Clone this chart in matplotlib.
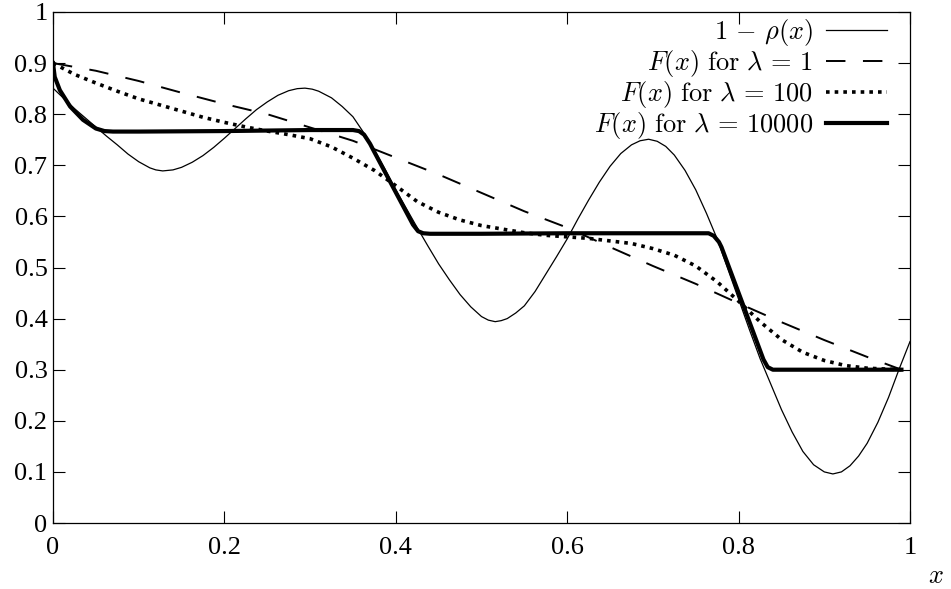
import numpy as np
import matplotlib.pyplot as plt

# values
thin_x = [0.0, 0.0125, 0.025, 0.0375, 0.05, 0.0625, 0.075, 0.0875, 0.1, 0.113, 0.12, 0.128,
          0.14, 0.15, 0.1625, 0.175, 0.1875, 0.2, 0.2125, 0.225, 0.2375, 0.25, 0.2625, 0.275,
          0.285, 0.294, 0.3025, 0.31, 0.325, 0.3375, 0.35, 0.3625, 0.375, 0.3875, 0.4, 0.4125,
          0.425, 0.4375, 0.45, 0.4625, 0.475, 0.4875, 0.5, 0.508, 0.516, 0.523, 0.53, 0.54,
          0.55, 0.5625, 0.575, 0.5875, 0.6, 0.6125, 0.625, 0.6375, 0.65, 0.6625, 0.675, 0.685,
          0.695, 0.705, 0.715, 0.725, 0.7375, 0.75, 0.7625, 0.775, 0.7875, 0.8, 0.8125, 0.825,
          0.8375, 0.85, 0.8625, 0.875, 0.8875, 0.9, 0.91, 0.92, 0.93, 0.94, 0.95, 0.9625,
          0.975, 0.9875, 1.0]
thin_y = [0.851, 0.831, 0.811, 0.793, 0.775, 0.757, 0.740, 0.722, 0.707, 0.695, 0.691, 0.689,
          0.691, 0.696, 0.706, 0.719, 0.735, 0.753, 0.772, 0.791, 0.809, 0.824, 0.837, 0.846,
          0.850, 0.851, 0.849, 0.845, 0.832, 0.815, 0.795, 0.764, 0.730, 0.692, 0.652, 0.615,
          0.578, 0.542, 0.507, 0.476, 0.447, 0.423, 0.404, 0.397, 0.394, 0.396, 0.400, 0.411,
          0.425, 0.453, 0.487, 0.521, 0.556, 0.595, 0.632, 0.667, 0.698, 0.723, 0.740, 0.748,
          0.751, 0.747, 0.737, 0.720, 0.690, 0.652, 0.606, 0.556, 0.497, 0.438, 0.379, 0.322,
          0.272, 0.222, 0.178, 0.140, 0.114, 0.100, 0.096, 0.100, 0.112, 0.131, 0.156, 0.197,
          0.246, 0.302, 0.355]

dash_x = [0.0, 0.05, 0.1, 0.15, 0.2, 0.25, 0.3, 0.35, 0.4, 0.45, 0.5, 0.55, 0.6, 0.65,
          0.7, 0.75, 0.8, 0.85, 0.9, 0.95, 0.99]
dash_y = [0.900, 0.885, 0.865, 0.842, 0.820, 0.800, 0.774, 0.748, 0.715, 0.682, 0.646, 0.610,
          0.578, 0.540, 0.503, 0.468, 0.430, 0.393, 0.358, 0.325, 0.300]

dot_x = [0.0, 0.025, 0.05, 0.075, 0.1, 0.125, 0.15, 0.175, 0.2, 0.225, 0.25, 0.275, 0.3,
         0.325, 0.35, 0.375, 0.4, 0.425, 0.45, 0.475, 0.5, 0.525, 0.55, 0.575, 0.6, 0.625,
         0.65, 0.675, 0.7, 0.725, 0.75, 0.775, 0.8, 0.825, 0.85, 0.875, 0.9, 0.925, 0.95,
         0.975, 0.99]
dot_y = [0.900, 0.878, 0.861, 0.845, 0.830, 0.818, 0.806, 0.794, 0.784, 0.775, 0.767, 0.760,
         0.752, 0.736, 0.714, 0.690, 0.660, 0.629, 0.608, 0.593, 0.582, 0.575, 0.568, 0.563,
         0.560, 0.557, 0.552, 0.547, 0.537, 0.524, 0.503, 0.472, 0.434, 0.394, 0.359, 0.334,
         0.318, 0.308, 0.303, 0.301, 0.300]

thick_x = [0.0, 0.002, 0.008, 0.02, 0.035, 0.05, 0.06, 0.07, 0.1, 0.2, 0.3, 0.35, 0.357,
           0.363, 0.37, 0.3737, 0.4, 0.42, 0.426, 0.432, 0.44, 0.5, 0.6, 0.7, 0.765, 0.771,
           0.777, 0.78, 0.805, 0.829, 0.834, 0.84, 0.9, 0.99]
thick_y = [0.900, 0.873, 0.847, 0.815, 0.789, 0.772, 0.767, 0.766, 0.766, 0.767, 0.769, 0.769,
           0.767, 0.760, 0.742, 0.730, 0.647, 0.584, 0.571, 0.567, 0.566, 0.566, 0.567, 0.567,
           0.567, 0.562, 0.550, 0.540, 0.428, 0.320, 0.305, 0.300, 0.300, 0.300]

labels = [r'$1\,-\,\rho(x)$',
          r'$F(x)\ \mathrm{for}\ \lambda\,=\,1$',
          r'$F(x)\ \mathrm{for}\ \lambda\,=\,100$',
          r'$F(x)\ \mathrm{for}\ \lambda\,=\,10000$']
xticks = [0, 0.2, 0.4, 0.6, 0.8, 1]
xticklabels = ['0', '0.2', '0.4', '0.6', '0.8', '1']
yticks = [0, 0.1, 0.2, 0.3, 0.4, 0.5, 0.6, 0.7, 0.8, 0.9, 1]
yticklabels = ['0', '0.1', '0.2', '0.3', '0.4', '0.5', '0.6', '0.7', '0.8', '0.9', '1']

plt.rcParams['font.family'] = ['Liberation Serif', 'DejaVu Serif']
plt.rcParams['mathtext.fontset'] = 'cm'

fig, ax = plt.subplots(figsize=(9.51, 5.89), dpi=100)
fig.subplots_adjust(left=53/951, right=910/951, bottom=1-523/589, top=1-12/589)

ax.plot(thin_x, thin_y, color='k', lw=0.9, label=labels[0])
ax.plot(dash_x, dash_y, color='k', lw=1.4, linestyle=(0, (10, 9)), label=labels[1])
ax.plot(dot_x, dot_y, color='k', lw=2.6, linestyle=(0, (1.0, 1.4)), label=labels[2])
ax.plot(thick_x, thick_y, color='k', lw=3.0, label=labels[3])

ax.set_xlim(0, 1)
ax.set_ylim(0, 1)
ax.set_xticks(xticks)
ax.set_xticklabels(xticklabels)
ax.set_yticks(yticks)
ax.set_yticklabels(yticklabels)
ax.tick_params(direction='in', top=True, right=True, length=8.5, width=0.8, labelsize=19)
ax.tick_params(axis='x', pad=10)
ax.tick_params(axis='y', pad=4)
for s in ax.spines.values():
    s.set_linewidth(0.9)

ax.text(1.03, -0.106, r'$x$', transform=ax.transAxes, ha='center', va='center', fontsize=19)

ax.legend(loc='upper right', bbox_to_anchor=(0.973, 0.99), frameon=False, markerfirst=False,
          fontsize=19, handlelength=2.3, handletextpad=0.5, labelspacing=0.0,
          borderpad=0, borderaxespad=0)

fig.savefig('out.png', dpi=100)
